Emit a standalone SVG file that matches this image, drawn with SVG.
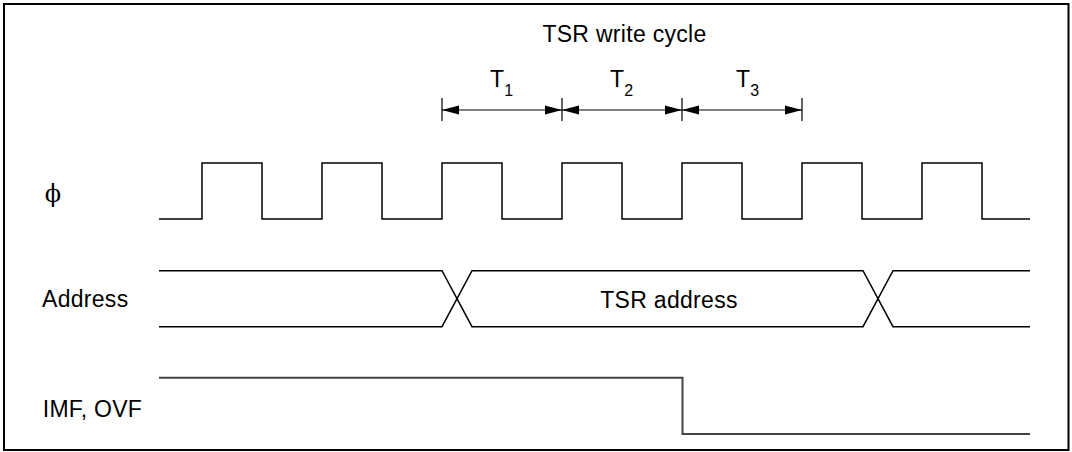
<svg xmlns="http://www.w3.org/2000/svg" width="1072" height="452" viewBox="0 0 1072 452">
<defs>
<style>
.t{font-family:"Liberation Sans",Arial,sans-serif;font-size:23px;letter-spacing:0.3px;fill:#000}
.sub{font-size:16px;letter-spacing:0}
.w{fill:none;stroke:#000;stroke-width:1.5}
.g{fill:none;stroke:#444;stroke-width:2}
.dim{stroke:#000;stroke-width:1.2;fill:none}
</style>
<marker id="ah" markerUnits="userSpaceOnUse" markerWidth="18" markerHeight="10" refX="17" refY="5" orient="auto-start-reverse">
<path d="M0,0.5 L17,5 L0,9.5 z" fill="#000"/>
</marker>
</defs>
<rect x="4" y="4" width="1064.5" height="446" fill="#fff" stroke="#000" stroke-width="2"/>
<g id="title"><text class="t" x="624.5" y="41.5" text-anchor="middle">TSR write cycle</text></g>
<g id="labels">
<text class="t" x="490" y="87">T<tspan class="sub" dy="9.4">1</tspan></text>
<text class="t" x="610" y="87">T<tspan class="sub" dy="9.4">2</tspan></text>
<text class="t" x="736" y="87">T<tspan class="sub" dy="9.4">3</tspan></text>
</g>
<g id="phi-label"><text x="53" y="202" text-anchor="middle" style="font-family:'DejaVu Serif','Liberation Serif',serif;font-size:24px">ϕ</text></g>
<g id="address-label"><text class="t" x="42" y="307.3">Address</text></g>
<g id="imf-label"><text class="t" x="42.7" y="417.3">IMF, OVF</text></g>
<g id="tsr-address"><text class="t" x="669" y="308.3" text-anchor="middle">TSR address</text></g>
<g id="connectors">
<path class="dim" d="M442,98V121 M562,98V121 M682,98V121 M802,98V121"/>
<line class="dim" x1="442" y1="110" x2="562" y2="110" marker-start="url(#ah)" marker-end="url(#ah)"/>
<line class="dim" x1="562" y1="110" x2="682" y2="110" marker-start="url(#ah)" marker-end="url(#ah)"/>
<line class="dim" x1="682" y1="110" x2="802" y2="110" marker-start="url(#ah)" marker-end="url(#ah)"/>
</g>
<g id="clock">
<path class="w" d="M159,219H202V163H262V219H322V163H382V219H442V163H502V219H562V163H622V219H682V163H742V219H802V163H862V219H922V163H982V219H1030"/>
</g>
<g id="address">
<path class="w" d="M159,270.7H442L472,326.7H863L893,270.7H1030"/>
<path class="w" d="M159,326.7H442L472,270.7H863L893,326.7H1030"/>
</g>
<g id="imf">
<path class="g" d="M159,377.7H682.5V434H1030"/>
</g>
</svg>
